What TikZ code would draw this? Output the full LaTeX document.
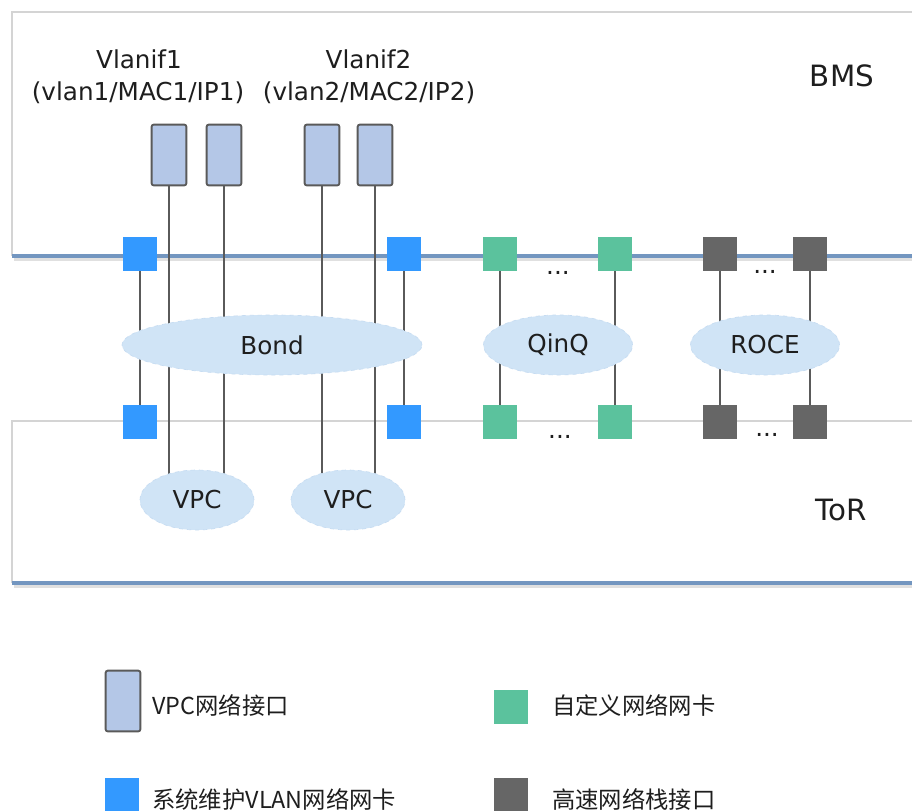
\documentclass[tikz,border=0pt]{standalone}
\usepackage{fontspec}
\setmainfont{DejaVu Sans}
\newfontfamily\cjk{Noto Sans CJK SC}
\usetikzlibrary{shapes.geometric}
\pgfdeclarelayer{back}
\pgfdeclarelayer{wires}
\pgfsetlayers{back,wires,main}
\definecolor{boxgray}{HTML}{D4D4D4}
\definecolor{edgeblue}{HTML}{7396C0}
\definecolor{sysblue}{HTML}{3399FF}
\definecolor{custgreen}{HTML}{5BC29D}
\definecolor{fastgray}{HTML}{666666}
\definecolor{vpcfill}{HTML}{B4C7E7}
\definecolor{ellfill}{HTML}{D0E4F6}
\definecolor{ellline}{HTML}{C6DCF2}
\definecolor{wire}{HTML}{5A5A5A}
\definecolor{ink}{HTML}{1E1E1E}
\begin{document}
\begin{tikzpicture}[x=0.75pt,y=-0.75pt,
  sq/.style={rectangle, minimum width=25.5pt, minimum height=25.5pt, inner sep=0pt},
  sysnic/.style={sq, fill=sysblue},
  custnic/.style={sq, fill=custgreen},
  fastnic/.style={sq, fill=fastgray},
  vpcif/.style={rectangle, rounded corners=1.5pt, draw=wire, line width=1.4pt, fill=vpcfill, minimum width=26pt, minimum height=45.5pt, inner sep=0pt},
  cloud/.style={ellipse, fill=ellfill, draw=ellline, dashed, line width=0.5pt, inner sep=0pt, minimum height=45pt, text=ink, font=\fontsize{18.5}{22}\selectfont},
  wireline/.style={draw=wire, line width=1.5pt},
  lbl/.style={font=\fontsize{18.5}{22}\selectfont, text=ink, inner sep=0pt, anchor=base},
  biglbl/.style={font=\fontsize{22}{26}\selectfont, text=ink, inner sep=0pt, anchor=base},
  leg/.style={font=\cjk\fontsize{17.5}{21}\selectfont, text=ink, inner sep=0pt, anchor=base west},
  boxline/.style={draw=boxgray, line width=2pt},
  boxbase/.style={draw=edgeblue, line width=3.5pt},
  boxshadow/.style={draw=black!12, line width=3pt}
  ]
\clip (0,0) rectangle (912,810);

% interface ports
\node[vpcif] (if1) at (169,155) {};
\node[vpcif] (if2) at (224,155) {};
\node[vpcif] (if3) at (322,155) {};
\node[vpcif] (if4) at (375,155) {};

% NIC squares
\node[sysnic] (s1t) at (140,253.5) {};
\node[sysnic] (s1b) at (140,422) {};
\node[sysnic] (s2t) at (404,253.5) {};
\node[sysnic] (s2b) at (404,422) {};
\node[custnic] (c1t) at (500,253.5) {};
\node[custnic] (c1b) at (500,422) {};
\node[custnic] (c2t) at (615,253.5) {};
\node[custnic] (c2b) at (615,422) {};
\node[fastnic] (f1t) at (720,253.5) {};
\node[fastnic] (f1b) at (720,422) {};
\node[fastnic] (f2t) at (810,253.5) {};
\node[fastnic] (f2b) at (810,422) {};

% ellipses
\node[cloud, minimum width=225pt] (bond) at (272,345) {Bond};
\node[cloud, minimum width=111.75pt] (qinq) at (558,345) {QinQ};
\node[cloud, minimum width=111.75pt] (roce) at (765,345) {ROCE};
\node[cloud, minimum width=85.5pt] (vpc1) at (197,500) {VPC};
\node[cloud, minimum width=85.5pt] (vpc2) at (348,500) {VPC};

% labels
\node[lbl] (v1name) at (139,68) {Vlanif1};
\node[lbl] (v1info) at (138,100) {(vlan1/MAC1/IP1)};
\node[lbl] (v2name) at (368.5,68) {Vlanif2};
\node[lbl] (v2info) at (369,100) {(vlan2/MAC2/IP2)};
\node[biglbl] (bmslbl) at (842,86) {BMS};
\node[biglbl] (torlbl) at (841,520) {ToR};
\node[lbl] (d1) at (558,274) {...};
\node[lbl] (d2) at (765,273) {...};
\node[lbl] (d3) at (560,438) {...};
\node[lbl] (d4) at (767,436) {...};

% legend
\node[vpcif] (lg1) at (123,701) {};
\node[leg] (lt1) at (152,714) {VPC网络接口};
\node[custnic] (lg2) at (510.5,706.5) {};
\node[leg] (lt2) at (552,714) {自定义网络网卡};
\node[sysnic] (lg3) at (122,795) {};
\node[leg] (lt3) at (152,808) {系统维护VLAN网络网卡};
\node[fastnic] (lg4) at (510.5,795) {};
\node[leg] (lt4) at (552,808) {高速网络栈接口};

\begin{pgfonlayer}{back}
  \fill[white] (0,0) rectangle (912,810);
  % BMS box
  \draw[boxshadow] (14,259) -- (920,259);
  \draw[boxline] (920,12) -- (12,12) -- (12,256);
  \draw[boxbase] (12,256) -- (920,256);
  % ToR box
  \draw[boxshadow] (14,586) -- (920,586);
  \draw[boxline] (920,421) -- (12,421) -- (12,583);
  \draw[boxbase] (12,583) -- (920,583);
\end{pgfonlayer}

\begin{pgfonlayer}{wires}
  \draw[wireline] (if1.south) -- (if1.south |- vpc1.center);
  \draw[wireline] (if2.south) -- (if2.south |- vpc1.center);
  \draw[wireline] (if3.south) -- (if3.south |- vpc2.center);
  \draw[wireline] (if4.south) -- (if4.south |- vpc2.center);
  \draw[wireline] (s1t) -- (s1b);
  \draw[wireline] (s2t) -- (s2b);
  \draw[wireline] (c1t) -- (c1b);
  \draw[wireline] (c2t) -- (c2b);
  \draw[wireline] (f1t) -- (f1b);
  \draw[wireline] (f2t) -- (f2b);
\end{pgfonlayer}
\end{tikzpicture}
\end{document}
